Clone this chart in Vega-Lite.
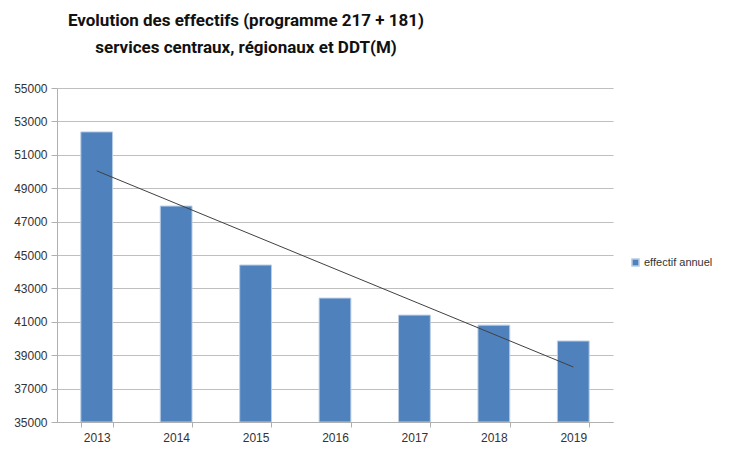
{
  "$schema": "https://vega.github.io/schema/vega-lite/v6.json",
  "autosize": {"type": "none"},
  "width": 556,
  "height": 334,
  "padding": {"left": 57, "top": 88, "right": 123, "bottom": 36},
  "background": "white",
  "title": {
    "text": ["Evolution des effectifs  (programme 217 + 181)", "services centraux, régionaux et DDT(M)"],
    "font": "Roboto",
    "fontWeight": "bold",
    "fontSize": 17,
    "lineHeight": 27,
    "color": "#111111",
    "anchor": "middle",
    "dx": -89,
    "offset": 25
  },
  "data": {
    "values": [
      {"year": 2013, "value": 52370},
      {"year": 2014, "value": 47930},
      {"year": 2015, "value": 44400},
      {"year": 2016, "value": 42420},
      {"year": 2017, "value": 41400},
      {"year": 2018, "value": 40800},
      {"year": 2019, "value": 39850}
    ]
  },
  "encoding": {
    "x": {
      "field": "year",
      "type": "ordinal",
      "scale": {"paddingInner": 0.6, "paddingOuter": 0.3},
      "axis": {
        "title": null,
        "labelAngle": 0,
        "tickBand": "extent",
        "domainColor": "#b0b0b0",
        "tickColor": "#b0b0b0",
        "tickSize": 5,
        "labelPadding": 5,
        "labelFont": "Liberation Sans",
        "labelFontSize": 12,
        "labelColor": "#333333",
        "grid": false,
        "zindex": 1
      }
    },
    "y": {
      "field": "value",
      "type": "quantitative",
      "scale": {"domain": [35000, 55000], "nice": false, "zero": false},
      "axis": {
        "title": null,
        "values": [35000, 37000, 39000, 41000, 43000, 45000, 47000, 49000, 51000, 53000, 55000],
        "format": "d",
        "domainColor": "#b0b0b0",
        "tickColor": "#b0b0b0",
        "gridColor": "#bfbfbf",
        "tickSize": 6,
        "labelPadding": 4,
        "labelFont": "Liberation Sans",
        "labelFontSize": 12,
        "labelColor": "#333333"
      }
    }
  },
  "layer": [
    {
      "mark": {"type": "bar", "stroke": "#b9cde5", "strokeWidth": 1, "clip": true},
      "encoding": {
        "y2": {"datum": 35000},
        "color": {
          "datum": "effectif annuel",
          "scale": {"range": ["#4f81bd"]},
          "legend": {
            "title": null,
            "orient": "none",
            "legendX": 573,
            "legendY": 169,
            "symbolType": "square",
            "symbolSize": 50,
            "labelFont": "Liberation Sans",
            "labelFontSize": 11,
            "labelColor": "#333333",
            "labelOffset": 3
          }
        }
      }
    },
    {
      "transform": [{"regression": "value", "on": "year"}],
      "mark": {"type": "line", "color": "#404040", "strokeWidth": 1},
      "encoding": {}
    }
  ],
  "config": {"view": {"stroke": null}}
}
